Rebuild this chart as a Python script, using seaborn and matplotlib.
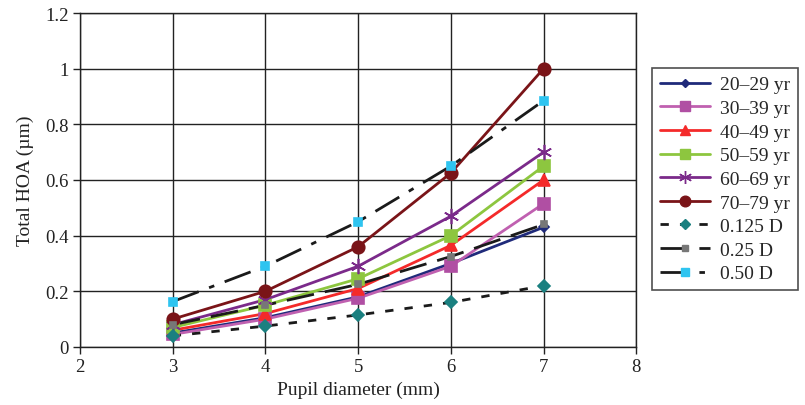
import matplotlib
matplotlib.use("Agg")
import matplotlib.pyplot as plt
import seaborn as sns
import pandas as pd

pupil = [3, 4, 5, 6, 7]

age_20_29 = [0.05, 0.105, 0.18, 0.30, 0.43]
age_30_39 = [0.045, 0.10, 0.175, 0.29, 0.515]
age_40_49 = [0.06, 0.12, 0.21, 0.365, 0.60]
age_50_59 = [0.07, 0.15, 0.245, 0.40, 0.65]
age_60_69 = [0.08, 0.17, 0.29, 0.47, 0.70]
age_70_79 = [0.10, 0.20, 0.36, 0.625, 1.00]
defocus_0125 = [0.04, 0.075, 0.115, 0.16, 0.22]
defocus_025 = [0.08, 0.15, 0.225, 0.325, 0.44]
defocus_050 = [0.163, 0.29, 0.45, 0.65, 0.885]

series_names = ["20–29 yr", "30–39 yr", "40–49 yr", "50–59 yr", "60–69 yr",
                "70–79 yr", "0.125 D", "0.25 D", "0.50 D"]
series_values = [age_20_29, age_30_39, age_40_49, age_50_59, age_60_69,
                 age_70_79, defocus_0125, defocus_025, defocus_050]

styles = {
    "20–29 yr": dict(color="#1F2A7A", lc="#1F2A7A", marker="D", ms=5, ls="-"),
    "30–39 yr": dict(color="#B04FA3", lc="#C060B0", marker="s", ms=9, ls="-"),
    "40–49 yr": dict(color="#F42A2A", lc="#F42A2A", marker="^", ms=8, ls="-"),
    "50–59 yr": dict(color="#8DC63F", lc="#8DC63F", marker="s", ms=9, ls="-"),
    "60–69 yr": dict(color="#7B2A8A", lc="#7B2A8A", marker=(6, 2, 0), ms=11, ls="-"),
    "70–79 yr": dict(color="#7A1418", lc="#7A1418", marker="o", ms=9, ls="-"),
    "0.125 D": dict(color="#1A8080", lc="#1a1a1a", marker="D", ms=6, ls=(0, (3, 4))),
    "0.25 D": dict(color="#777777", lc="#1a1a1a", marker="s", ms=5, ls=(0, (10, 4))),
    "0.50 D": dict(color="#2EC4F0", lc="#1a1a1a", marker="s", ms=6, ls=(0, (10, 4, 2, 4))),
}

rows = []
for name, vals in zip(series_names, series_values):
    for x, y in zip(pupil, vals):
        rows.append({"pupil": x, "hoa": y, "series": name})
df = pd.DataFrame(rows)

sns.set_theme(style="white")
plt.rcParams["font.family"] = ["Liberation Serif", "DejaVu Serif"]

fig = plt.figure(figsize=(8.05, 4.06), dpi=100)
ax = fig.add_axes([0.0994, 0.143, 0.691, 0.8225])

handles = []
for name in series_names:
    st = styles[name]
    sub = df[df["series"] == name]
    sns.lineplot(data=sub, x="pupil", y="hoa", ax=ax, color=st["lc"],
                 linestyle=st["ls"], linewidth=2.0, zorder=3, legend=False)
    ax.plot(sub["pupil"], sub["hoa"], linestyle="none", marker=st["marker"],
            markersize=st["ms"], color=st["color"], markeredgecolor=st["color"],
            markeredgewidth=1.2, zorder=4)
    h, = ax.plot([], [], color=st["lc"], linestyle=st["ls"], linewidth=2.0,
                 marker=st["marker"], markersize=st["ms"] * 0.85,
                 markerfacecolor=st["color"], markeredgecolor=st["color"])
    handles.append(h)

ax.set_xlim(2, 8)
ax.set_ylim(0, 1.2)
ax.set_xticks([2, 3, 4, 5, 6, 7, 8])
ax.set_yticks([0, 0.2, 0.4, 0.6, 0.8, 1.0, 1.2])
ax.set_yticklabels(["0", "0.2", "0.4", "0.6", "0.8", "1", "1.2"])
ax.grid(True, color="#222222", linewidth=1.0)
ax.set_axisbelow(True)
for s in ax.spines.values():
    s.set_color("#222222")
    s.set_linewidth(1.0)
ax.tick_params(axis="both", direction="out", length=5, width=1, color="#222222",
               labelsize=13.5, labelcolor="#222222", pad=3, left=True, bottom=True)
ax.set_xlabel("Pupil diameter (mm)", fontsize=14, color="#222222", labelpad=4)
ax.set_ylabel("Total HOA (µm)", fontsize=14, color="#222222", labelpad=8)

leg = fig.legend(handles, series_names, loc="upper left",
                 bbox_to_anchor=(652 / 805, 1 - 69 / 406), borderaxespad=0,
                 frameon=True, fancybox=False, edgecolor="#222222",
                 fontsize=14, handlelength=2.6, handletextpad=0.5,
                 labelspacing=0.31, borderpad=0.4)
leg.get_frame().set_linewidth(1.2)

fig.savefig("out.png", dpi=100)
